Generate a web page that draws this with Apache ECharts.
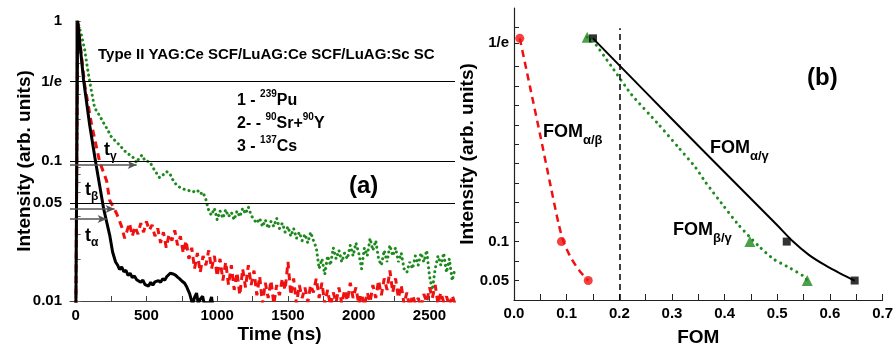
<!DOCTYPE html>
<html>
<head>
<meta charset="utf-8">
<script src="https://cdn.jsdelivr.net/npm/echarts@6/dist/echarts.min.js"></script>
<style>
html, body { margin: 0; padding: 0; background: #fff; }
#main { width: 896px; height: 352px; }
</style>
</head>
<body>
<div id="main"></div>
<script>
// (a) decay curves: [time ns, intensity]
var decayPu = [[0,0.005],[14,1],[56,0.379],[99,0.181],[141,0.0985],[198,0.0454],[240,0.0297],[261,0.0224],[282,0.019],
  [297,0.018],[310,0.0168],[325,0.0175],[340,0.0162],[355,0.0166],[370,0.0152],[385,0.0158],[400,0.0147],[415,0.0151],
  [431,0.0142],[445,0.0146],[460,0.0136],[475,0.0141],[490,0.0131],[501,0.0135],[515,0.0128],[530,0.0136],[545,0.013],
  [560,0.0137],[572,0.0133],[585,0.014],[600,0.0136],[615,0.0144],[630,0.0141],[643,0.0149],[655,0.0152],[668,0.0158],
  [678,0.0162],[690,0.0156],[705,0.0153],[720,0.0148],[735,0.0144],[750,0.0139],[770,0.0134],[785,0.0126],[795,0.0119],
  [805,0.0113],[815,0.0104],[826,0.0095],[840,0.0106],[854,0.0114],[866,0.0096],[880,0.0103],[897,0.0108],[910,0.0094],
  [925,0.0098],[940,0.0092],[960,0.0107],[970,0.009]];
var decaySr = [[0,0.005],[14,1],[64,0.349],[113,0.181],[170,0.0985],[219,0.072],[240,0.0525],[261,0.048],[290,0.042],
  [325,0.034],[346,0.028],[360,0.031],[380,0.036],[400,0.029],[420,0.034],[440,0.03],[460,0.036],[480,0.031],[500,0.037],
  [520,0.032],[540,0.035],[560,0.029],[580,0.033],[600,0.026],[620,0.031],[640,0.024],[660,0.03],[680,0.027],[700,0.032],
  [720,0.025],[740,0.029],[760,0.022],[780,0.027],[800,0.02],[820,0.024],[840,0.017],[860,0.022],[880,0.016],[900,0.021],
  [920,0.018],[940,0.023],[960,0.017],[980,0.021],[1000,0.015],[1020,0.02],[1040,0.014],[1060,0.019],[1080,0.013],
  [1100,0.018],[1120,0.012],[1140,0.016],[1160,0.011],[1180,0.017],[1200,0.0125],[1220,0.018],[1240,0.013],[1260,0.0165],
  [1280,0.011],[1300,0.015],[1320,0.0095],[1340,0.0135],[1360,0.0105],[1380,0.014],[1400,0.0095],[1420,0.013],[1440,0.011],
  [1460,0.0145],[1480,0.012],[1500,0.019],[1520,0.011],[1540,0.0145],[1560,0.0095],[1580,0.013],[1600,0.0105],[1620,0.0125],
  [1640,0.0098],[1660,0.013],[1680,0.0115],[1700,0.0145],[1720,0.0105],[1740,0.0135],[1760,0.0095],[1780,0.012],[1800,0.0092],
  [1820,0.0115],[1840,0.0098],[1860,0.0125],[1880,0.0095],[1900,0.012],[1920,0.01],[1940,0.0135],[1960,0.0105],[1980,0.0125],
  [2000,0.0095],[2020,0.0112],[2040,0.0092],[2060,0.0115],[2080,0.0098],[2100,0.013],[2120,0.0105],[2140,0.014],[2160,0.011],
  [2180,0.0145],[2200,0.012],[2220,0.0165],[2240,0.0115],[2260,0.0145],[2280,0.0105],[2300,0.013],[2320,0.0095],[2340,0.0115],
  [2360,0.009],[2380,0.011],[2400,0.0095],[2420,0.0105],[2440,0.009],[2460,0.0112],[2480,0.0098],[2500,0.0125],[2520,0.0105],
  [2540,0.013],[2560,0.0095],[2580,0.0115],[2600,0.0098],[2620,0.0108],[2640,0.0092],[2660,0.011],[2680,0.0095]];
var decayCs = [[0,0.005],[14,1],[40,0.8],[64,0.62],[85,0.45],[99,0.37],[113,0.31],[134,0.24],[170,0.21],[200,0.185],
  [226,0.167],[250,0.15],[275,0.141],[310,0.13],[360,0.114],[400,0.108],[430,0.097],[452,0.107],[470,0.11],[490,0.1],
  [523,0.099],[560,0.085],[593,0.076],[620,0.08],[640,0.084],[664,0.082],[690,0.072],[710,0.068],[734,0.065],[760,0.063],
  [790,0.062],[826,0.06],[860,0.062],[880,0.058],[897,0.06],[915,0.055],[925,0.051],[935,0.046],[946,0.043],[960,0.041],
  [980,0.046],[1000,0.038],[1020,0.044],[1040,0.039],[1060,0.045],[1080,0.04],[1100,0.043],[1120,0.038],[1140,0.044],
  [1160,0.04],[1180,0.046],[1200,0.042],[1220,0.047],[1240,0.041],[1260,0.038],[1280,0.036],[1300,0.039],[1320,0.034],
  [1340,0.038],[1360,0.033],[1380,0.037],[1400,0.034],[1420,0.039],[1440,0.033],[1460,0.036],[1480,0.031],[1500,0.034],
  [1520,0.029],[1540,0.033],[1560,0.028],[1580,0.031],[1600,0.027],[1620,0.03],[1640,0.026],[1660,0.031],[1680,0.027],
  [1700,0.024],[1720,0.017],[1740,0.02],[1760,0.0155],[1780,0.021],[1800,0.018],[1820,0.024],[1840,0.02],[1860,0.023],
  [1880,0.019],[1900,0.022],[1920,0.02],[1940,0.025],[1960,0.021],[1980,0.026],[2000,0.022],[2020,0.017],[2040,0.024],
  [2060,0.021],[2080,0.028],[2100,0.023],[2120,0.027],[2140,0.02],[2160,0.018],[2180,0.023],[2200,0.019],[2220,0.025],
  [2240,0.021],[2260,0.024],[2280,0.019],[2300,0.022],[2320,0.017],[2340,0.016],[2360,0.019],[2380,0.017],[2400,0.021],
  [2420,0.018],[2440,0.022],[2460,0.019],[2480,0.023],[2500,0.015],[2520,0.012],[2540,0.017],[2560,0.021],[2580,0.018],
  [2600,0.022],[2620,0.016],[2640,0.02],[2660,0.014],[2680,0.017]];

// (a) reference levels and the t arrows [end time, level]
var levelLines = [Math.exp(-1), 0.1, 0.05];
var arrowGamma = [431, 0.0937];
var arrowBeta = [275, 0.0454];
var arrowAlpha = [219, 0.0385];

// (a) axes ticks / labels
var timeTicks = [0,250,500,750,1000,1250,1500,1750,2000,2250,2500];
var timeLabels = [0,500,1000,1500,2000,2500];
var intTicks = [0.01,0.02,0.03,0.04,0.05,0.06,0.07,0.08,0.09,0.1,0.2,0.3,0.4,0.5,0.6,0.7,0.8,0.9,1];
var intLabelVals = [0.01,0.05,0.1,Math.exp(-1),1];
var intLabelText = ['0.01','0.05','0.1','1/e','1'];

// (b) FOM points [FOM, level] and drawn curves
var fomAlphaBeta = [[0.011,0.361],[0.09,0.1],[0.141,0.05]];
var fomBetaGamma = [[0.139,0.3625],[0.448,0.1],[0.557,0.05]];
var fomAlphaGamma = [[0.15,0.361],[0.518,0.1],[0.647,0.05]];
var curveAlphaBeta = [[0.011,0.361],[0.03,0.3],[0.05,0.236],[0.07,0.17],[0.085,0.122],[0.095,0.098],[0.11,0.077],
  [0.125,0.062],[0.141,0.05]];
var curveBetaGamma = [[0.139,0.3625],[0.152,0.356],[0.184,0.326],[0.223,0.289],[0.274,0.251],[0.311,0.222],[0.345,0.195],
  [0.364,0.176],[0.399,0.145],[0.427,0.121],[0.465,0.094],[0.493,0.0775],[0.523,0.0665],[0.549,0.056],[0.557,0.05]];
var curveAlphaGamma = [[0.15,0.361],[0.25,0.292],[0.35,0.223],[0.45,0.155],[0.5,0.121],[0.53,0.1],[0.56,0.083],
  [0.59,0.07],[0.62,0.059],[0.647,0.05]];
var fomCut = 0.2;

// (b) axes ticks / labels
var fomTicks = [0,0.05,0.1,0.15,0.2,0.25,0.3,0.35,0.4,0.45,0.5,0.55,0.6,0.65,0.7];
var fomLabels = [0,0.1,0.2,0.3,0.4,0.5,0.6,0.7];
var lvlTicks = [0.05,0.075,0.1,0.125,0.15,0.175,0.2,0.225,0.25,0.275,0.3,0.325,0.355,0.375];
var lvlLabelVals = [0.05,0.1,0.355];
var lvlLabelText = ['0.05','0.1','1/e'];

var F = '"Liberation Sans", Arial, sans-serif';

function pick(vals, texts) {
  return function (v) {
    for (var i = 0; i < vals.length; i++) {
      if (Math.abs(v - vals[i]) < vals[i] * 1e-3) return texts[i];
    }
    return '';
  };
}

var lbl = { fontSize: 15, fontWeight: 'bold', color: '#000', fontFamily: F };
var nameStyle = { fontSize: 19, fontWeight: 'bold', color: '#000', fontFamily: F };

function txt(x, y, text, rich) {
  return { type: 'text', x: x, y: y, silent: true,
    style: { text: text, rich: rich, verticalAlign: 'middle', align: 'left', fill: '#000' } };
}
function tok(size, lh, va) {
  return { fontSize: size, fontWeight: 'bold', fontFamily: F, lineHeight: lh, verticalAlign: va, fill: '#000' };
}
var subRich = { m: tok(18, 30, 'middle'), s: tok(13, 13, 'bottom') };
var tRich = { m: tok(18, 26, 'middle'), s: tok(12, 12, 'bottom') };
var supRich = { m: tok(16, 24, 'middle'), s: tok(10, 10, 'top') };

var chart = echarts.init(document.getElementById('main'));
var option = {
  animation: false,
  grid: [
    { left: 70, top: 21, width: 385, height: 280 },
    { left: 514, top: 8, width: 373, height: 300 }
  ],
  xAxis: [
    {
      gridIndex: 0, type: 'value', min: -40, max: 2680,
      name: 'Time (ns)', nameLocation: 'middle', nameGap: 24, nameMoveOverlap: false,
      nameTextStyle: Object.assign({ padding: [0, 0, 0, 34] }, nameStyle),
      axisLine: { onZero: false, lineStyle: { color: '#444', width: 1 } },
      axisTick: { inside: true, length: 5, customValues: timeTicks, lineStyle: { color: '#444' } },
      axisLabel: Object.assign({ customValues: timeLabels, margin: 7,
        formatter: function (v) { return String(v); } }, lbl),
      splitLine: { show: false }
    },
    {
      gridIndex: 1, type: 'value', min: 0, max: 0.7,
      name: 'FOM', nameLocation: 'middle', nameGap: 28, nameMoveOverlap: false, nameTextStyle: nameStyle,
      axisLine: { onZero: false, lineStyle: { color: '#222', width: 1.2 } },
      axisTick: { inside: true, length: 6, customValues: fomTicks, lineStyle: { color: '#222' } },
      axisLabel: Object.assign({ customValues: fomLabels, margin: 6,
        formatter: function (v) { return v.toFixed(1); } }, lbl),
      splitLine: { show: false }
    }
  ],
  yAxis: [
    {
      gridIndex: 0, type: 'log', logBase: 10, min: 0.01, max: 1,
      name: 'Intensity (arb. units)', nameLocation: 'middle', nameGap: 36, nameMoveOverlap: false,
      nameTextStyle: nameStyle,
      axisLine: { show: true, lineStyle: { color: '#666', width: 1.5 } },
      axisTick: { show: true, inside: true, length: 5, customValues: intTicks, lineStyle: { color: '#666' } },
      axisLabel: Object.assign({ customValues: intLabelVals, margin: 8,
        formatter: pick(intLabelVals, intLabelText) }, lbl),
      splitLine: { show: false }
    },
    {
      gridIndex: 1, type: 'value', min: 0.025, max: 0.4,
      name: 'Intensity (arb. units)', nameLocation: 'middle', nameGap: 37, nameMoveOverlap: false,
      nameTextStyle: nameStyle,
      axisLine: { show: true, lineStyle: { color: '#222', width: 1.2 } },
      axisTick: { show: true, inside: true, length: 5, customValues: lvlTicks, lineStyle: { color: '#222' } },
      axisLabel: Object.assign({ customValues: lvlLabelVals, margin: 5,
        formatter: pick(lvlLabelVals, lvlLabelText) }, lbl),
      splitLine: { show: false }
    }
  ],
  series: [
    {
      type: 'line', xAxisIndex: 0, yAxisIndex: 0, data: decayCs, showSymbol: false,
      lineStyle: { color: '#1e8a1e', width: 3, type: [0.1, 5], cap: 'round' }
    },
    {
      type: 'line', xAxisIndex: 0, yAxisIndex: 0, data: decaySr, showSymbol: false,
      lineStyle: { color: '#f01010', width: 3, type: [7, 5] }
    },
    {
      type: 'line', xAxisIndex: 0, yAxisIndex: 0, data: decayPu, showSymbol: false,
      lineStyle: { color: '#000', width: 3 },
      markLine: {
        silent: true, symbol: 'none', label: { show: false },
        lineStyle: { color: '#000', width: 1, type: 'solid' },
        data: levelLines.map(function (v) { return { yAxis: v }; }).concat(
          [arrowGamma, arrowBeta, arrowAlpha].map(function (a) {
            return [
              { coord: [-40, a[1]], symbol: 'none' },
              { coord: a, symbol: 'arrow', symbolSize: [6, 9], lineStyle: { color: '#555', width: 1.5 } }
            ];
          })
        )
      }
    },
    {
      type: 'line', xAxisIndex: 1, yAxisIndex: 1, data: curveAlphaBeta, smooth: 0.25, showSymbol: false,
      lineStyle: { color: '#f01010', width: 2.5, type: [7, 5] },
      markLine: {
        silent: true, symbol: 'none', label: { show: false },
        lineStyle: { color: '#000', width: 1.5, type: [6, 4] },
        data: [[{ coord: [fomCut, 0.025] }, { coord: [fomCut, 0.374] }]]
      }
    },
    {
      type: 'line', xAxisIndex: 1, yAxisIndex: 1, data: curveBetaGamma, smooth: 0.2, showSymbol: false,
      lineStyle: { color: '#1e8a1e', width: 3, type: [0.1, 6], cap: 'round' }
    },
    {
      type: 'line', xAxisIndex: 1, yAxisIndex: 1, data: curveAlphaGamma, smooth: 0.3, showSymbol: false,
      lineStyle: { color: '#000', width: 2 }
    },
    {
      type: 'scatter', xAxisIndex: 1, yAxisIndex: 1, data: fomAlphaBeta,
      symbol: 'circle', symbolSize: 9, itemStyle: { color: '#f01010' }
    },
    {
      type: 'scatter', xAxisIndex: 1, yAxisIndex: 1, data: fomBetaGamma,
      symbol: 'triangle', symbolSize: 11, itemStyle: { color: '#1e8a1e' }
    },
    {
      type: 'scatter', xAxisIndex: 1, yAxisIndex: 1, data: fomAlphaGamma,
      symbol: 'rect', symbolSize: 8, itemStyle: { color: '#000' }
    }
  ],
  graphic: [
    txt(98, 55, '{m|Type II YAG:Ce SCF/LuAG:Ce SCF/LuAG:Sc SC}', { m: tok(15, 20, 'middle') }),
    txt(237, 101, '{m|1 - }{s|239}{m|Pu}', supRich),
    txt(237, 124, '{m|2- - }{s|90}{m|Sr+}{s|90}{m|Y}', supRich),
    txt(237, 147, '{m|3 - }{s|137}{m|Cs}', supRich),
    txt(349, 186, '{m|(a)}', { m: tok(24, 28, 'middle') }),
    txt(104, 150, '{m|t}{s|γ}', tRich),
    txt(85, 190, '{m|t}{s|β}', tRich),
    txt(85, 236, '{m|t}{s|α}', tRich),
    txt(807, 78, '{m|(b)}', { m: tok(24, 28, 'middle') }),
    txt(543, 132, '{m|FOM}{s|α/β}', subRich),
    txt(710, 148, '{m|FOM}{s|α/γ}', subRich),
    txt(673, 230, '{m|FOM}{s|β/γ}', subRich)
  ]
};
chart.setOption(option);
</script>
</body>
</html>
